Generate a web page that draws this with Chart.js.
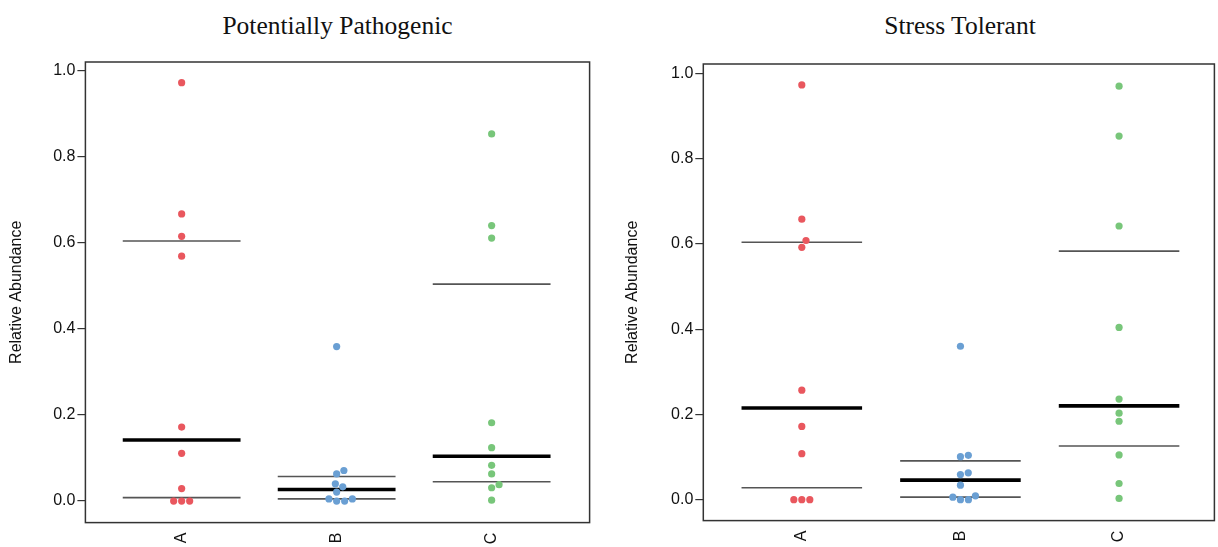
<!DOCTYPE html>
<html>
<head>
<meta charset="utf-8">
<script src="https://cdn.jsdelivr.net/npm/chart.js@4/dist/chart.umd.min.js"></script>
<style>
  html, body { margin: 0; padding: 0; background: #fff; }
  #wrap { position: relative; width: 1218px; height: 547px; overflow: hidden; }
  canvas { position: absolute; top: 0; }
  .titulo { position: absolute; top: 13px; font-family: 'Liberation Serif', 'Times New Roman', serif;
            font-size: 25.5px; line-height: 26px; color: #111; text-align: center; white-space: nowrap; }
</style>
</head>
<body>
<div id="wrap">
  <div class="titulo" style="left:85px; width:505px;">Potentially Pathogenic</div>
  <div class="titulo" style="left:703px; width:514px;">Stress Tolerant</div>
  <canvas id="chartPatho" width="609" height="547" style="left:0"></canvas>
  <canvas id="chartStress" width="609" height="547" style="left:609px"></canvas>
</div>
<script>
// ── Dados ──────────────────────────────────────────────────────
const groups = ['A', 'B', 'C'];
const yTicks = [0, 0.2, 0.4, 0.6, 0.8, 1.0];

// Potentially Pathogenic
const pathoA      = [0.972, 0.667, 0.615, 0.569, 0.172, 0.111, 0.029, 0, 0, 0];
const pathoB      = [0.359, 0.071, 0.063, 0.040, 0.033, 0.021, 0.005, 0.005, 0, 0];
const pathoC      = [0.853, 0.640, 0.611, 0.182, 0.124, 0.083, 0.063, 0.038, 0.031, 0.002];
const pathoUpper  = [0.604, 0.057, 0.504];
const pathoMedian = [0.142, 0.027, 0.104];
const pathoLower  = [0.008, 0.005, 0.045];

// Stress Tolerant
const stressA      = [0.973, 0.658, 0.608, 0.592, 0.257, 0.172, 0.108, 0, 0, 0];
const stressB      = [0.360, 0.104, 0.101, 0.063, 0.059, 0.034, 0.009, 0.006, 0, 0];
const stressC      = [0.970, 0.853, 0.642, 0.404, 0.236, 0.203, 0.184, 0.105, 0.038, 0.003];
const stressUpper  = [0.604, 0.091, 0.583];
const stressMedian = [0.215, 0.046, 0.220];
const stressLower  = [0.028, 0.006, 0.126];

const groupColors = ['#e9575e', '#6a9fd3', '#78c67a'];

Chart.defaults.font.family = "'Liberation Sans', Arial, sans-serif";
Chart.defaults.color = '#111';

// moldura do painel (box do R)
const boxPlugin = {
    id: 'box',
    beforeDatasetsDraw(chart) {
        const { ctx, chartArea: a } = chart;
        ctx.save();
        ctx.strokeStyle = '#333';
        ctx.lineWidth = 1.5;
        ctx.strokeRect(a.left, a.top, a.right - a.left, a.bottom - a.top);
        ctx.restore();
    }
};

// posições tipo beeswarm: o ponto vai para o x livre mais próximo do centro
function swarmOffsets(values, pxPerY, d) {
    const order = values.map((v, i) => i).sort((a, b) => values[a] - values[b]);
    const placed = [];
    const off = new Array(values.length);
    order.forEach(i => {
        const y = values[i] * pxPerY;
        const cands = [0];
        placed.forEach(p => {
            const dy = Math.abs(p.y - y);
            if (dy < d) {
                const dx = Math.sqrt(d * d - dy * dy);
                cands.push(p.x + dx, p.x - dx);
            }
        });
        const ok = cands.filter(x => placed.every(p => Math.hypot(p.x - x, p.y - y) >= d - 1e-6));
        ok.sort((a, b) => (Math.abs(Math.abs(a) - Math.abs(b)) < 1e-6 ? b - a : Math.abs(a) - Math.abs(b)));
        placed.push({ x: ok[0], y });
        off[i] = ok[0];
    });
    return off;
}

function criarPainel(id, series, upper, median, lower, geo) {
    const halfWidth = 0.38;
    const datasets = [];

    series.forEach((vals, i) => {
        datasets.push({
            data: vals.map(v => ({ x: i + 1, y: v })),
            backgroundColor: groupColors[i],
            borderWidth: 0,
            pointRadius: 3.6,
            pointHoverRadius: 3.6
        });
    });

    const linha = (vals, color, width) => vals.forEach((v, i) => {
        datasets.push({
            data: [{ x: i + 1 - halfWidth, y: v }, { x: i + 1 + halfWidth, y: v }],
            showLine: true,
            borderColor: color,
            borderWidth: width,
            pointRadius: 0
        });
    });
    linha(median, '#000', 3.6);
    linha(upper, '#555', 1.6);
    linha(lower, '#555', 1.6);

    const chart = new Chart(document.getElementById(id), {
        type: 'scatter',
        data: { datasets },
        plugins: [boxPlugin],
        options: {
            responsive: false,
            animation: false,
            events: [],
            layout: { padding: { top: geo.top, right: geo.right, left: 0, bottom: 0 } },
            plugins: { legend: { display: false }, tooltip: { enabled: false } },
            scales: {
                x: {
                    type: 'linear',
                    min: geo.xMin, max: geo.xMax,
                    afterBuildTicks: s => { s.ticks = groups.map((g, i) => ({ value: i + 1 })); },
                    afterFit: s => { s.height = geo.xHeight; },
                    ticks: {
                        callback: (v, idx) => groups[idx],
                        minRotation: 90, maxRotation: 90, autoSkip: false,
                        padding: 10,
                        font: { size: 16 }, color: '#111'
                    },
                    grid: { display: false, drawTicks: false },
                    border: { display: false }
                },
                y: {
                    min: geo.yMin, max: geo.yMax,
                    afterBuildTicks: s => { s.ticks = yTicks.map(v => ({ value: v })); },
                    afterFit: s => { s.width = geo.yWidth; },
                    ticks: {
                        callback: v => v.toFixed(1),
                        padding: 2,
                        font: { size: 16 }, color: '#111'
                    },
                    grid: { drawOnChartArea: false, drawTicks: true, tickLength: 8, color: '#333', lineWidth: 1.2 },
                    border: { display: false },
                    title: {
                        display: true,
                        text: 'Relative Abundance',
                        font: { size: 16 }, color: '#111',
                        padding: { top: geo.titlePad, bottom: 0 }
                    }
                }
            }
        }
    });

    // espalha os pontos de cada grupo usando as escalas já calculadas
    const pxPerX = chart.scales.x.getPixelForValue(2) - chart.scales.x.getPixelForValue(1);
    const pxPerY = chart.scales.y.getPixelForValue(0) - chart.scales.y.getPixelForValue(1);
    series.forEach((vals, i) => {
        const off = swarmOffsets(vals, pxPerY, 8);
        chart.data.datasets[i].data = vals.map((v, k) => ({ x: i + 1 + off[k] / pxPerX, y: v }));
    });
    chart.update('none');
    return chart;
}

criarPainel('chartPatho', [pathoA, pathoB, pathoC], pathoUpper, pathoMedian, pathoLower, {
    top: 62, right: 19.4, xHeight: 24.4, yWidth: 85.4, titlePad: 7,
    xMin: 0.379, xMax: 3.632, yMin: -0.050, yMax: 1.020
});

criarPainel('chartStress', [stressA, stressB, stressC], stressUpper, stressMedian, stressLower, {
    top: 64, right: 1.5, xHeight: 26.4, yWidth: 94.3, titlePad: 14,
    xMin: 0.379, xMax: 3.601, yMin: -0.049, yMax: 1.022
});
</script>
</body>
</html>
